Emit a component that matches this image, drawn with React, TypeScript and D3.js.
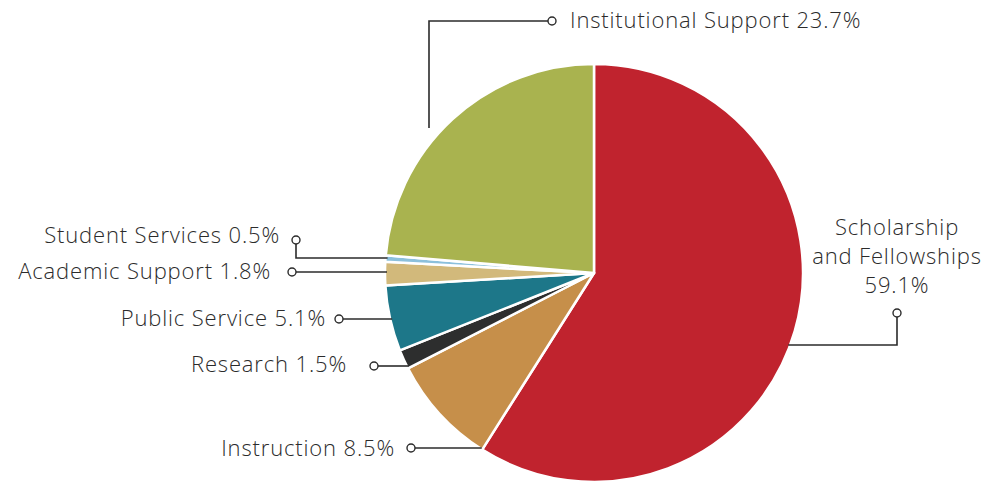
import * as d3 from "d3";

const categories = [
  "Scholarship and Fellowships",
  "Instruction",
  "Research",
  "Public Service",
  "Academic Support",
  "Student Services",
  "Institutional Support",
];
const values = [59.1, 8.5, 1.5, 5.1, 1.8, 0.5, 23.7];
const colors = ["#c0232e", "#c68f4a", "#2d2e2e", "#1d7789", "#d2b97b", "#8cc0dc", "#a9b34f"];

const W = 987;
const H = 482;
const cx = 594;
const cy = 273;
const R = 209;
const ink = "#2b2b2b";
const font = "'Open Sans', 'Noto Sans', sans-serif";

// x on the pie rim for a given y (left or right side)
const rimX = (y: number, side: number) => cx + side * Math.sqrt(R * R - (y - cy) * (y - cy));

export default function App() {
  const pie = d3
    .pie<number>()
    .sort(null)
    .value((d) => d);
  const arcs = pie(values);
  const arc = d3.arc<d3.PieArcDatum<number>>().innerRadius(0).outerRadius(R);

  const leftLabels = [
    { i: 5, cxp: 296, cyp: 240, lineY: 258, ty: 235, tx: 280 },
    { i: 4, cxp: 292, cyp: 272, lineY: 272, ty: 271, tx: 271 },
    { i: 3, cxp: 339, cyp: 319, lineY: 319, ty: 318, tx: 326 },
    { i: 2, cxp: 374, cyp: 366, lineY: 366, ty: 364, tx: 347 },
    { i: 1, cxp: 411, cyp: 448, lineY: 448, ty: 448, tx: 395 },
  ];

  return (
    <svg width={W} height={H} style={{ position: "absolute", left: 0, top: 0 }}>
      <rect width={W} height={H} fill="#fff" />
      <g transform={`translate(${cx},${cy})`}>
        {arcs.map((a, k) => (
          <path key={k} d={arc(a) || ""} fill={colors[k]} stroke="#fff" strokeWidth={2.5} strokeLinejoin="round" />
        ))}
      </g>

      <g fontFamily={font} fontSize={22} fontWeight={300} letterSpacing={0.85} fill={ink}>
        {/* Institutional Support */}
        <path d={`M429,128V21H548`} fill="none" stroke={ink} strokeWidth={1.6} />
        <circle cx={552} cy={21} r={4} fill="#fff" stroke={ink} strokeWidth={1.4} />
        <text x={570} y={20} dy="0.35em">
          {`${categories[6]} ${values[6]}%`}
        </text>

        {/* Scholarship */}
        <path d={`M${rimX(345, 1) - 2},345H897V317`} fill="none" stroke={ink} strokeWidth={1.6} />
        <circle cx={897} cy={313} r={4} fill="#fff" stroke={ink} strokeWidth={1.4} />
        <text x={897} textAnchor="middle">
          <tspan x={897} y={227} dy="0.35em">Scholarship</tspan>
          <tspan x={897} y={256} dy="0.35em">and Fellowships</tspan>
          <tspan x={897} y={285} dy="0.35em">{`${values[0]}%`}</tspan>
        </text>

        {leftLabels.map((l) => {
          const endX = rimX(l.lineY, -1) + 2;
          const d =
            l.lineY === l.cyp
              ? `M${l.cxp + 4},${l.lineY}H${endX}`
              : `M${l.cxp},${l.cyp + 4}V${l.lineY}H${endX}`;
          return (
            <g key={l.i}>
              <path d={d} fill="none" stroke={ink} strokeWidth={1.6} />
              <circle cx={l.cxp} cy={l.cyp} r={4} fill="#fff" stroke={ink} strokeWidth={1.4} />
              <text x={l.tx} y={l.ty} dy="0.35em" textAnchor="end">
                {`${categories[l.i]} ${values[l.i]}%`}
              </text>
            </g>
          );
        })}
      </g>
    </svg>
  );
}
